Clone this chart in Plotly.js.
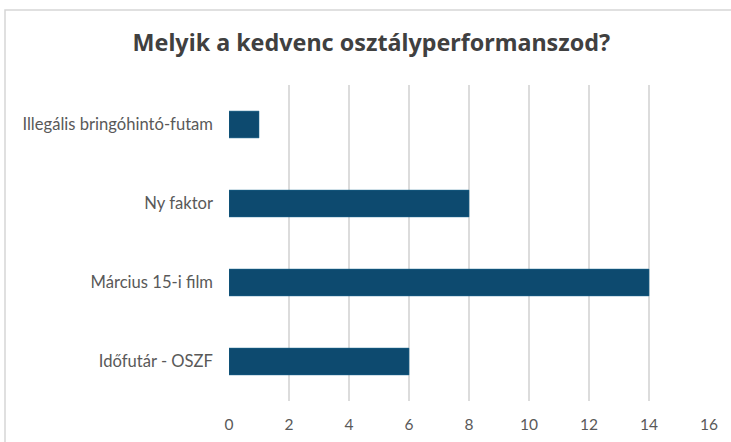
<!DOCTYPE html>
<html>
<head>
<meta charset="utf-8">
<script src="https://cdn.plot.ly/plotly-3.0.1.min.js"></script>
<style>html,body{margin:0;padding:0;background:#fff;}#chart{width:731px;height:442px;}</style>
</head>
<body>
<div id="chart"></div>
<script>
const categories = ["Illegális bringóhintó-futam", "Ny faktor", "Március 15-i film", "Időfutár - OSZF"];
const values = [1, 8, 14, 6];
const xTicks = [0, 2, 4, 6, 8, 10, 12, 14, 16];
const chartTitle = "Melyik a kedvenc osztályperformanszod?";

const trace = {
  type: "bar",
  orientation: "h",
  y: categories,
  x: values,
  width: 0.34,
  marker: {color: "#0d4a6f", line: {color: "#1f6a92", width: 0.5}},
  hoverinfo: "none"
};

const layout = {
  width: 731, height: 442,
  margin: {l: 229, r: 22, t: 85, b: 41},
  paper_bgcolor: "#ffffff", plot_bgcolor: "#ffffff",
  showlegend: false,
  title: {
    text: "<b>" + chartTitle + "</b>",
    font: {family: "Noto Sans, DejaVu Sans", size: 23.3, color: "#404040"},
    x: 0.508, xanchor: "center", y: 0.903, yanchor: "middle"
  },
  xaxis: {
    range: [0, 16],
    tickvals: xTicks,
    ticktext: xTicks.map(String),
    showgrid: true, gridcolor: "#dcdcdc", gridwidth: 1.5,
    zeroline: false, showline: false, ticks: "",
    ticklabelstandoff: 12,
    tickfont: {family: "Lato, Noto Sans", size: 15.5, color: "#595959"},
    fixedrange: true
  },
  yaxis: {
    categoryorder: "array",
    categoryarray: categories.slice().reverse(),
    range: [-0.5, 3.5],
    showgrid: false, zeroline: false, showline: false, ticks: "",
    ticklabelstandoff: 15,
    tickfont: {family: "Lato, Noto Sans", size: 16.6, color: "#595959"},
    fixedrange: true
  },
  shapes: [{
    type: "rect", xref: "paper", yref: "paper",
    x0: (5 - 229) / 480, x1: 1.2, y0: -0.3, y1: (401 - 10) / 316,
    line: {color: "#d6d6d6", width: 1.5}, fillcolor: "rgba(0,0,0,0)", layer: "below"
  }]
};

Plotly.newPlot("chart", [trace], layout, {displayModeBar: false, staticPlot: true});
</script>
</body>
</html>
